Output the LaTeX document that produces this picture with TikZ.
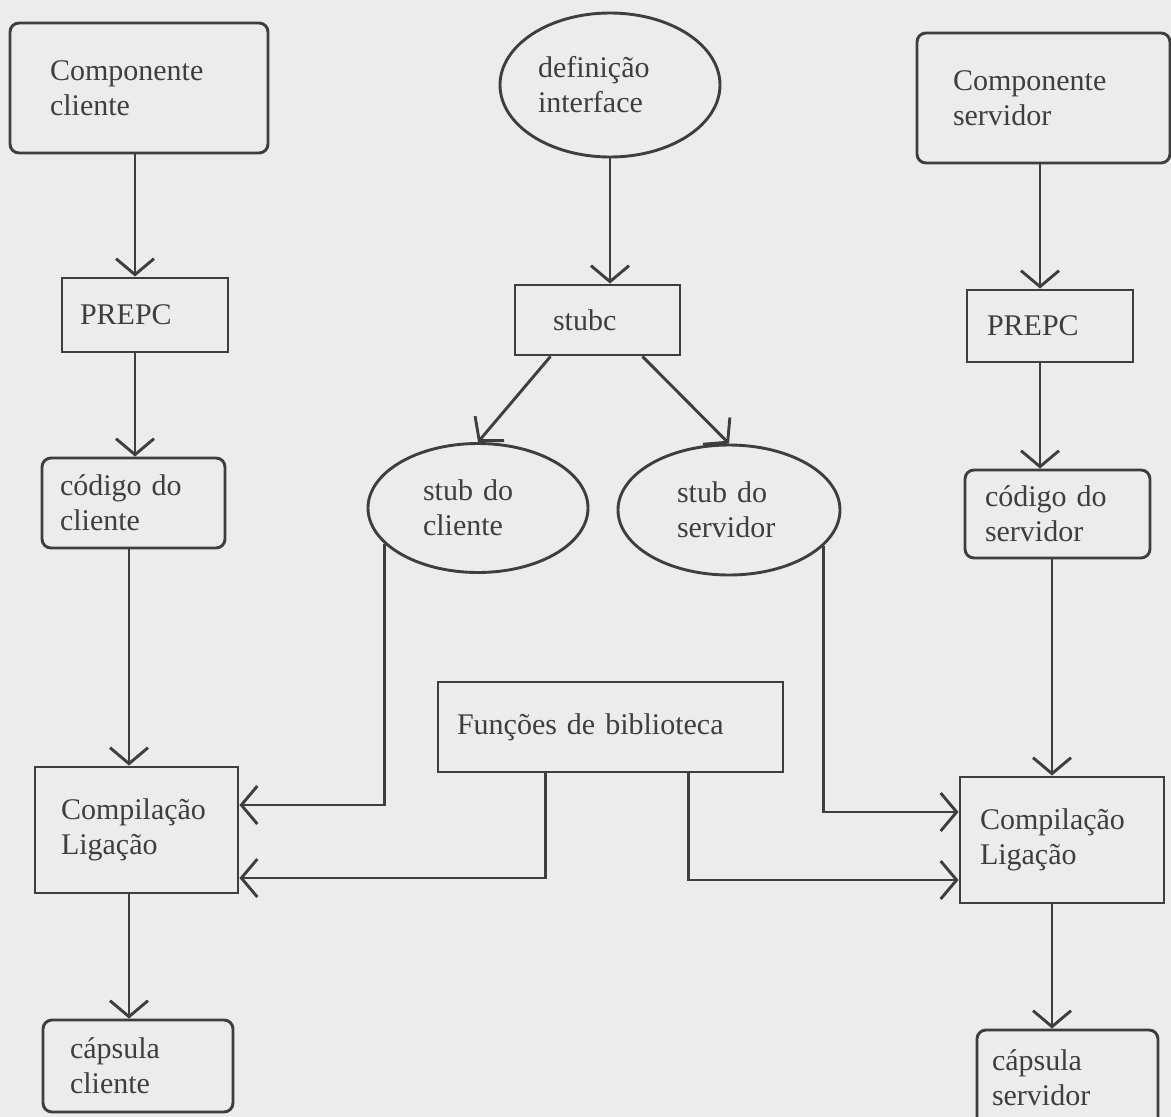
\documentclass[tikz,border=0pt]{standalone}
\usepackage{fontspec}
\setmainfont{Liberation Serif}
\usetikzlibrary{arrows.meta,shapes.geometric}
\definecolor{paper}{RGB}{236,236,236}
\definecolor{ink}{RGB}{62,62,62}

\begin{document}
\begin{tikzpicture}[
  x=1pt, y=-1pt,
  font=\fontsize{30}{35}\selectfont,
  box/.style={rectangle, draw, align=left, inner ysep=0pt},
  rbox/.style={box, rounded corners=9pt},
  oval/.style={ellipse, draw, align=left, inner sep=0pt},
  arr/.style={-{Straight Barb[length=16pt, width=38pt]}},
  color=ink, line width=2.9pt
]
  % Fundo
  \clip (0,0) rectangle (1171,1117);
  \fill[paper] (0,0) rectangle (1171,1117);

  % Colunas
  \coordinate (colL1) at (135,0);
  \coordinate (colL2) at (129,0);
  \coordinate (colR1) at (1040,0);
  \coordinate (colR2) at (1052,0);

  % Nodes
  \node[rbox, minimum height=130pt, text width=178pt, inner xsep=40pt] (compcli) at (139,88) {Componente\\cliente};
  \node[box, minimum height=74pt, text width=130pt, inner xsep=18pt] (prepccli) at (145,315) {PREPC};
  \node[rbox, minimum height=90pt, text width=147pt, inner xsep=18pt] (codcli) at (133.5,503) {código do\\cliente};
  \node[box, minimum height=126pt, text width=151pt, inner xsep=26pt] (compilcli) at (136.5,830) {Compilação\\Ligação};
  \node[rbox, minimum height=92pt, text width=136pt, inner xsep=27pt] (capcli) at (138,1066) {cápsula\\cliente};

  \node[oval, minimum width=220pt, minimum height=144pt, text width=144pt] (defifc) at (610,85) {definição\\interface};
  \node[box, minimum height=70pt, text width=89pt, inner xsep=38pt] (stubc) at (597.5,320) {stubc};
  \node[oval, minimum width=220pt, minimum height=129pt, text width=110pt] (stubcli) at (478,508) {stub do\\cliente};
  \node[oval, minimum width=222pt, minimum height=130pt, text width=104pt] (stubsrv) at (729,510) {stub do\\servidor};
  \node[box, minimum height=90pt, text width=307pt, inner xsep=19pt] (funcbib) at (610.5,727) {Funções de biblioteca};

  \node[rbox, minimum height=130pt, text width=181pt, inner xsep=36pt] (compsrv) at (1043.5,98) {Componente\\servidor};
  \node[box, minimum height=72pt, text width=126pt, inner xsep=20pt] (prepcsrv) at (1050,326) {PREPC};
  \node[rbox, minimum height=88pt, text width=145pt, inner xsep=20pt] (codsrv) at (1057.5,514) {código do\\servidor};
  \node[box, minimum height=126pt, text width=164pt, inner xsep=20pt] (compilsrv) at (1062,840) {Compilação\\Ligação};
  \node[rbox, minimum height=96pt, text width=151pt, inner xsep=15pt] (capsrv) at (1067.5,1078) {cápsula\\servidor};

  % Edges
  \draw[arr] (compcli.south -| colL1) -- (prepccli.north -| colL1);
  \draw[arr] (prepccli.south -| colL1) -- (codcli.north -| colL1);
  \draw[arr] (codcli.south -| colL2) -- (compilcli.north -| colL2);
  \draw[arr] (compilcli.south -| colL2) -- (capcli.north -| colL2);

  \draw[arr] (compsrv.south -| colR1) -- (prepcsrv.north -| colR1);
  \draw[arr] (prepcsrv.south -| colR1) -- (codsrv.north -| colR1);
  \draw[arr] (codsrv.south -| colR2) -- (compilsrv.north -| colR2);
  \draw[arr] (compilsrv.south -| colR2) -- (capsrv.north -| colR2);

  \draw[arr] (defifc.south) -- (stubc.north -| defifc.south);
  \draw[arr] ([xshift=-47pt]stubc.south) -- (stubcli.north);
  \draw[arr] ([xshift=45pt]stubc.south) -- (stubsrv.north);

  \draw[arr] (stubcli.201) |- ([yshift=25pt]compilcli.east);
  \draw[arr] (stubsrv.339) |- ([yshift=28pt]compilsrv.west);
  \draw[arr] ([xshift=-65pt]funcbib.south) |- ([yshift=-48pt]compilcli.east);
  \draw[arr] ([xshift=78pt]funcbib.south) |- ([yshift=-40pt]compilsrv.west);
\end{tikzpicture}
\end{document}
